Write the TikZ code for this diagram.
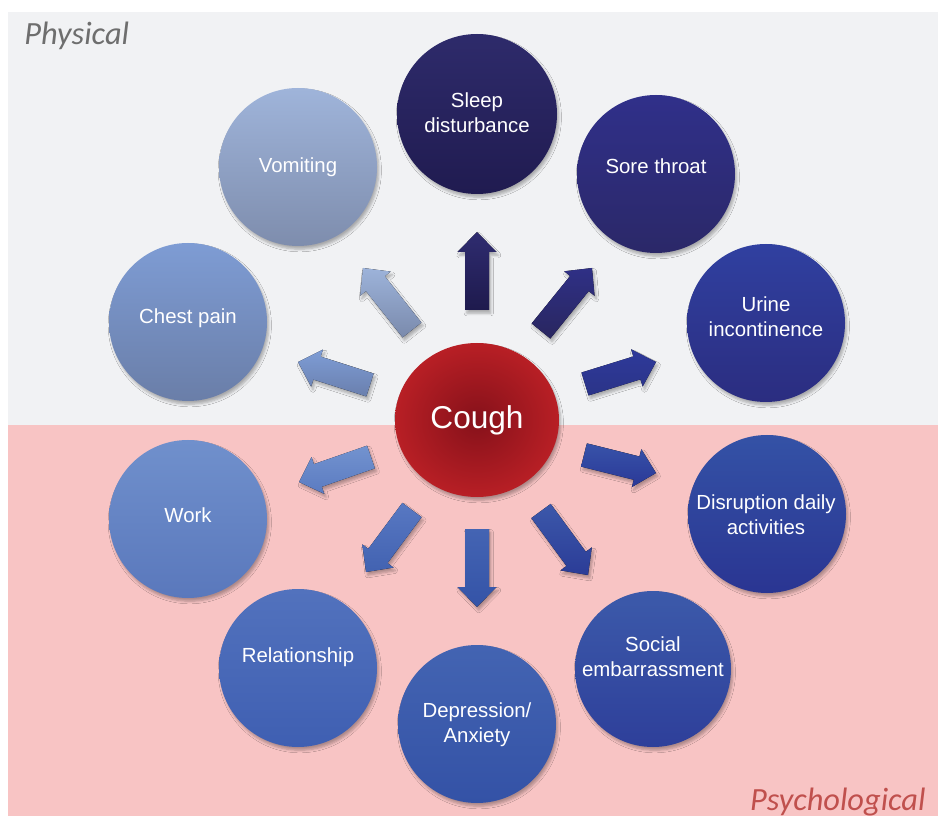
\documentclass[tikz,border=0pt]{standalone}
\usepackage{fontspec}
\setmainfont{Liberation Sans}
\newfontfamily\zonefont{Carlito}
\usetikzlibrary{calc,shapes.geometric,shadows.blur}

\definecolor{zonegray}{HTML}{F1F2F4}
\definecolor{zonepink}{HTML}{F8C4C4}
\definecolor{physgray}{HTML}{6E6E6E}
\definecolor{psyred}{HTML}{C0504D}
\definecolor{coughout}{HTML}{B81F25}
\definecolor{coughin}{HTML}{86111A}

% bubble shading, top / bottom
\definecolor{sleepT}{HTML}{2E2B6B}   \definecolor{sleepB}{HTML}{201B50}
\definecolor{soreT}{HTML}{30308A}    \definecolor{soreB}{HTML}{2B2868}
\definecolor{urineT}{HTML}{3040A0}   \definecolor{urineB}{HTML}{2B2D80}
\definecolor{disrT}{HTML}{3452A6}    \definecolor{disrB}{HTML}{2A3592}
\definecolor{socT}{HTML}{3C5AAA}     \definecolor{socB}{HTML}{2E3F9A}
\definecolor{depT}{HTML}{4364B2}     \definecolor{depB}{HTML}{3452A6}
\definecolor{relT}{HTML}{5272BD}     \definecolor{relB}{HTML}{3F5FB2}
\definecolor{workT}{HTML}{7090CC}    \definecolor{workB}{HTML}{5A78BC}
\definecolor{chestT}{HTML}{7E9CD4}   \definecolor{chestB}{HTML}{6A7EA8}
\definecolor{vomT}{HTML}{9FB4DA}     \definecolor{vomB}{HTML}{7E8DAD}

% arrow shading, top / bottom
\definecolor{aoneT}{HTML}{2F2C70}    \definecolor{aoneB}{HTML}{1E1A4D}
\definecolor{atwoT}{HTML}{2F3086}    \definecolor{atwoB}{HTML}{29265F}
\definecolor{athreeT}{HTML}{2E399A}  \definecolor{athreeB}{HTML}{2B3488}
\definecolor{afourT}{HTML}{7E9DD6}   \definecolor{afourB}{HTML}{6A7FAD}
\definecolor{afiveT}{HTML}{9DB3DA}   \definecolor{afiveB}{HTML}{7A8AAC}
\definecolor{asixT}{HTML}{7393CF}    \definecolor{asixB}{HTML}{5B7BC1}
\definecolor{asevenT}{HTML}{5878C2}  \definecolor{asevenB}{HTML}{4262B1}
\definecolor{aeightT}{HTML}{4464B3}  \definecolor{aeightB}{HTML}{3453A7}
\definecolor{anineT}{HTML}{3C58AA}   \definecolor{anineB}{HTML}{2B3C97}
\definecolor{atenT}{HTML}{3853A9}    \definecolor{atenB}{HTML}{2A3897}

\tikzset{
  softshadow/.style={blur shadow={shadow xshift=0.9pt, shadow yshift=-1.6pt,
      shadow blur radius=1.3pt, shadow blur steps=5, shadow opacity=30}},
  bubble/.style={circle, inner sep=0pt, minimum size=79pt, softshadow},
  lbl/.style={text=white, align=center, font=\fontsize{10.2}{12.4}\selectfont},
  zone/.style={inner sep=0pt, font=\zonefont\itshape\fontsize{16.2}{19}\selectfont},
}

% block arrow from coordinate <name>t (tail) to <name>h (tip)
\newcommand{\blockarrow}[3]{%
  \coordinate (#1b) at ($(#1h)!10pt!(#1t)$);
  \fill[softshadow, top color=#2, bottom color=#3]
    ($(#1t)!6pt!-90:(#1h)$) -- ($(#1b)!6pt!90:(#1t)$) --
    ($(#1b)!9.75pt!90:(#1t)$) -- (#1h) --
    ($(#1b)!9.75pt!-90:(#1t)$) -- ($(#1b)!6pt!-90:(#1t)$) --
    ($(#1t)!6pt!90:(#1h)$) -- cycle;
}

\begin{document}
\begin{tikzpicture}[x=0.5pt, y=-0.5pt]
  \useasboundingbox (0,0) rectangle (938,818);
  \fill[white] (0,0) rectangle (938,818);

  % the two zones
  \fill[zonegray] (8,12) rectangle (938,425);
  \fill[zonepink] (8,425) rectangle (938,816);
  \node[zone, text=physgray, anchor=base west] (physical) at (24,45) {Physical};
  \node[zone, text=psyred, anchor=base east] (psycho) at (926,810) {Psychological};

  % arrows radiating from the centre
  \coordinate (a1t) at (477,310); \coordinate (a1h) at (477,232);
  \coordinate (a2t) at (541,331); \coordinate (a2h) at (592,268);
  \coordinate (a3t) at (585,384); \coordinate (a3h) at (656,362);
  \coordinate (a4t) at (370,385); \coordinate (a4h) at (298,362);
  \coordinate (a5t) at (412,330); \coordinate (a5h) at (363,268);
  \coordinate (a6t) at (371,457); \coordinate (a6h) at (299,482);
  \coordinate (a7t) at (412,510); \coordinate (a7h) at (366,572);
  \coordinate (a8t) at (477,529); \coordinate (a8h) at (477,607);
  \coordinate (a9t) at (541,511); \coordinate (a9h) at (588,575);
  \coordinate (a10t) at (584,455); \coordinate (a10h) at (656,473);

  \blockarrow{a1}{aoneT}{aoneB}
  \blockarrow{a2}{atwoT}{atwoB}
  \blockarrow{a3}{athreeT}{athreeB}
  \blockarrow{a4}{afourT}{afourB}
  \blockarrow{a5}{afiveT}{afiveB}
  \blockarrow{a6}{asixT}{asixB}
  \blockarrow{a7}{asevenT}{asevenB}
  \blockarrow{a8}{aeightT}{aeightB}
  \blockarrow{a9}{anineT}{anineB}
  \blockarrow{a10}{atenT}{atenB}

  % centre
  \node[ellipse, minimum width=82pt, minimum height=77pt, inner sep=0pt,
        softshadow, inner color=coughin, outer color=coughout,
        text=white, font=\fontsize{15.8}{18}\selectfont] (cough) at (477,420) {Cough};

  % surrounding bubbles
  \node[bubble, minimum size=80pt, top color=sleepT, bottom color=sleepB] (sleep) at (477,114) {};
  \node[bubble, top color=soreT, bottom color=soreB] (sore) at (656,174) {};
  \node[bubble, top color=urineT, bottom color=urineB] (urine) at (766,323) {};
  \node[bubble, top color=disrT, bottom color=disrB] (disrupt) at (767,514) {};
  \node[bubble, minimum size=78pt, top color=socT, bottom color=socB] (social) at (653,669) {};
  \node[bubble, top color=depT, bottom color=depB] (depress) at (477,724) {};
  \node[bubble, top color=relT, bottom color=relB] (relation) at (298,668) {};
  \node[bubble, top color=workT, bottom color=workB] (work) at (188,519) {};
  \node[bubble, top color=chestT, bottom color=chestB] (chest) at (188,322) {};
  \node[bubble, top color=vomT, bottom color=vomB] (vomit) at (298,167) {};

  % bubble labels
  \node[lbl] (tsleep) at (477,113) {Sleep\\disturbance};
  \node[lbl] (tsore) at (656,166) {Sore throat};
  \node[lbl] (turine) at (766,317) {Urine\\incontinence};
  \node[lbl] (tdisrupt) at (766,515) {Disruption daily\\activities};
  \node[lbl] (tsocial) at (653,657) {Social\\embarrassment};
  \node[lbl] (tdepress) at (477,725) {Depression/\\Anxiety};
  \node[lbl] (trelation) at (298,657) {Relationship};
  \node[lbl] (twork) at (188,515) {Work};
  \node[lbl] (tchest) at (188,318) {Chest pain};
  \node[lbl] (tvomit) at (298,167) {Vomiting};
\end{tikzpicture}
\end{document}
